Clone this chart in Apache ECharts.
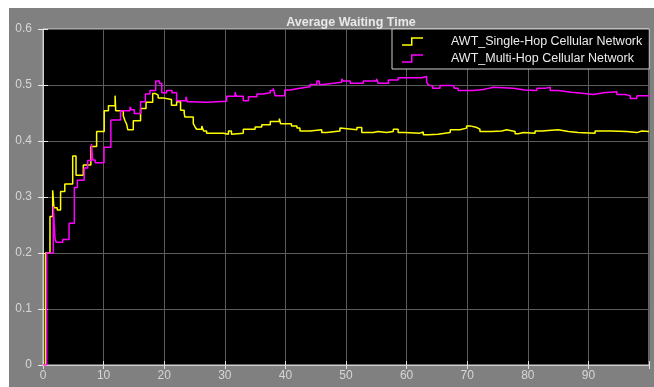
<!DOCTYPE html>
<html>
<head>
<meta charset="utf-8">
<script src="https://cdn.jsdelivr.net/npm/echarts@6/dist/echarts.min.js"></script>
<style>
html,body{margin:0;padding:0;background:#fff;}
#c{width:654px;height:387px;}
</style>
</head>
<body>
<div id="c"></div>
<script>
const titleText = 'Average Waiting Time';
const seriesNames = ['AWT_Single-Hop Cellular Network', 'AWT_Multi-Hop Cellular Network'];
const xTicks = [0, 10, 20, 30, 40, 50, 60, 70, 80, 90];
const yTicks = [0, 0.1, 0.2, 0.3, 0.4, 0.5, 0.6];

const singleT = [0,0.4,1.15,1.6,1.8,2.35,2.9,3.6,4.9,5.45,6.65,7.9,8.85,10.1,10.8,11.9,12.0,13.25,13.5,13.8,14.0,14.9,16.1,17.0,18.1,18.5,19.0,19.8,20.1,21.2,22.05,22.7,23.3,23.4,24.8,25.1,25.35,26.2,26.5,27.0,29.75,30.6,31.1,31.4,33.05,35.0,36.1,37.5,39.0,39.2,41.0,41.9,42.4,44.06,46.0,46.8,49.0,49.3,51.8,52.6,54.5,55.3,56.7,57.8,58.6,59.7,62.2,62.75,63.6,65.2,67.2,68.8,69.9,70.5,71.6,72.1,74.0,75.7,76.5,77.9,78.4,79.3,81.2,82.3,85.0,86.7,88.3,91.1,93.8,96.3,98.0,98.8,100];
const singleV = [0,0.2,0.265,0.312,0.281,0.277,0.31,0.323,0.373,0.339,0.357,0.39,0.417,0.454,0.463,0.481,0.454,0.445,0.437,0.43,0.42,0.436,0.458,0.469,0.485,0.482,0.477,0.479,0.474,0.464,0.47,0.455,0.45,0.443,0.431,0.425,0.421,0.427,0.418,0.414,0.412,0.418,0.412,0.414,0.421,0.425,0.429,0.435,0.44,0.431,0.427,0.423,0.418,0.42,0.415,0.418,0.423,0.42,0.424,0.415,0.417,0.415,0.417,0.421,0.415,0.414,0.416,0.411,0.412,0.415,0.42,0.423,0.427,0.424,0.421,0.417,0.418,0.42,0.417,0.413,0.415,0.414,0.418,0.42,0.417,0.415,0.414,0.418,0.417,0.415,0.418,0.417,0.417];

const multiT = [0,0.6,1.7,1.98,2.15,3.25,4.3,5.17,5.67,6.8,7.37,8.0,8.2,8.6,10.07,11.2,12.8,14.35,14.6,15.07,16.1,16.9,17.65,18.6,19.2,19.6,20.4,21.3,22.05,23.6,23.8,24.3,27.0,30.3,31.7,31.9,32.5,33.05,33.9,35.3,36.35,37.5,38.0,38.3,39.9,40.8,42.4,44.06,45.2,45.6,46.2,47.9,49.3,49.55,50.7,52.85,55.05,55.3,57.0,58.6,62.5,63.3,63.6,63.9,64.3,65.5,67.7,67.9,68.5,71.0,72.65,73.5,74.3,77.6,79.5,81.5,82.8,83.7,85.0,87.2,89.4,90.8,92.5,94.7,96.0,96.9,98.0,98.5,98.8,100];
const multiV = [0,0.2,0.283,0.226,0.219,0.224,0.253,0.317,0.33,0.352,0.365,0.395,0.366,0.361,0.389,0.4375,0.454,0.461,0.456,0.449,0.47,0.484,0.49,0.507,0.503,0.486,0.49,0.486,0.472,0.479,0.47,0.469,0.471,0.48,0.487,0.48,0.48,0.472,0.479,0.484,0.486,0.49,0.494,0.481,0.491,0.494,0.497,0.501,0.507,0.501,0.503,0.505,0.511,0.507,0.503,0.507,0.511,0.503,0.509,0.513,0.515,0.505,0.5,0.498,0.494,0.499,0.501,0.494,0.49,0.492,0.494,0.496,0.494,0.491,0.49,0.494,0.496,0.49,0.487,0.485,0.483,0.486,0.488,0.483,0.481,0.476,0.481,0.483,0.481,0.479];

function pairs(ts, vs){ return ts.map((t,i)=>[t, vs[i]]); }

const chart = echarts.init(document.getElementById('c'), null, {renderer:'canvas'});
const labelColor = '#d6d6d6';
const fontFam = 'Liberation Sans, Arial, sans-serif';
const stepIcon = 'path://M0,7 L9,7 L9,0 L21,0 L21,1.5 L10.5,1.5 L10.5,8.5 L0,8.5 Z';

chart.setOption({
  backgroundColor: 'transparent',
  animation: false,
  graphic: [{
    type: 'rect', z: -10, silent: true,
    shape: {x: 9, y: 8, width: 645, height: 379},
    style: {fill: '#808080'}
  }],
  title: {
    text: titleText,
    left: 346, top: 11, textAlign: 'center',
    textStyle: {color: '#e8e8e8', fontSize: 12.5, fontWeight: 'bold', fontFamily: fontFam}
  },
  legend: {
    left: 392, top: 29, orient: 'vertical',
    backgroundColor: '#000', borderColor: '#d0d0d0', borderWidth: 1,
    padding: [6, 7, 4, 10], itemGap: 4,
    itemWidth: 21, itemHeight: 8.5,
    icon: stepIcon,
    textStyle: {color: '#ececec', fontSize: 12.5, fontFamily: fontFam, padding: [0, 0, 0, 23]},
    data: seriesNames
  },
  grid: {left: 43, top: 29, right: 5, bottom: 22, show: true, backgroundColor: '#000', borderColor: '#cfcfcf', borderWidth: 1},
  xAxis: [{
    type: 'value', min: 0, max: 100, interval: 10,
    axisLine: {show: true, lineStyle: {color: '#cfcfcf'}},
    axisTick: {show: true, inside: true, length: 4, lineStyle: {color: '#e0e0e0'}},
    axisLabel: {color: labelColor, fontSize: 12, margin: 5, fontFamily: fontFam,
      formatter: v => xTicks.indexOf(v) >= 0 ? String(v) : ''},
    splitLine: {show: true, lineStyle: {color: '#5c5c5c', width: 1}}
  },{
    type: 'value', position: 'top', min: 0, max: 100, interval: 10,
    axisLine: {show: false}, axisLabel: {show: false}, splitLine: {show: false},
    axisTick: {show: true, inside: true, length: 4, lineStyle: {color: '#e0e0e0'}}
  }],
  yAxis: [{
    type: 'value', min: 0, max: 0.6, interval: 0.1,
    axisLine: {show: true, lineStyle: {color: '#cfcfcf'}},
    axisTick: {show: true, inside: true, length: 5, lineStyle: {color: '#e8e8e8'}},
    axisLabel: {color: labelColor, fontSize: 12, margin: 11, fontFamily: fontFam,
      formatter: v => { const t = yTicks.find(y => Math.abs(y - v) < 1e-9); return t === undefined ? '' : (t === 0 ? '0' : t.toFixed(1)); }},
    splitLine: {show: true, lineStyle: {color: '#5c5c5c', width: 1}}
  },{
    type: 'value', position: 'right', min: 0, max: 0.6, interval: 0.1,
    axisLine: {show: false}, axisLabel: {show: false}, splitLine: {show: false},
    axisTick: {show: true, inside: true, length: 5, lineStyle: {color: '#e8e8e8'}}
  }],
  series: [{
    name: seriesNames[0], type: 'line', step: 'end', showSymbol: false, symbol: 'none',
    data: pairs(singleT, singleV), z: 3,
    lineStyle: {color: '#ffff00', width: 1.5}, itemStyle: {color: '#ffff00'}
  },{
    name: seriesNames[1], type: 'line', step: 'end', showSymbol: false, symbol: 'none',
    data: pairs(multiT, multiV), z: 4,
    lineStyle: {color: '#ff00ff', width: 1.5}, itemStyle: {color: '#ff00ff'}
  }]
});
</script>
</body>
</html>
